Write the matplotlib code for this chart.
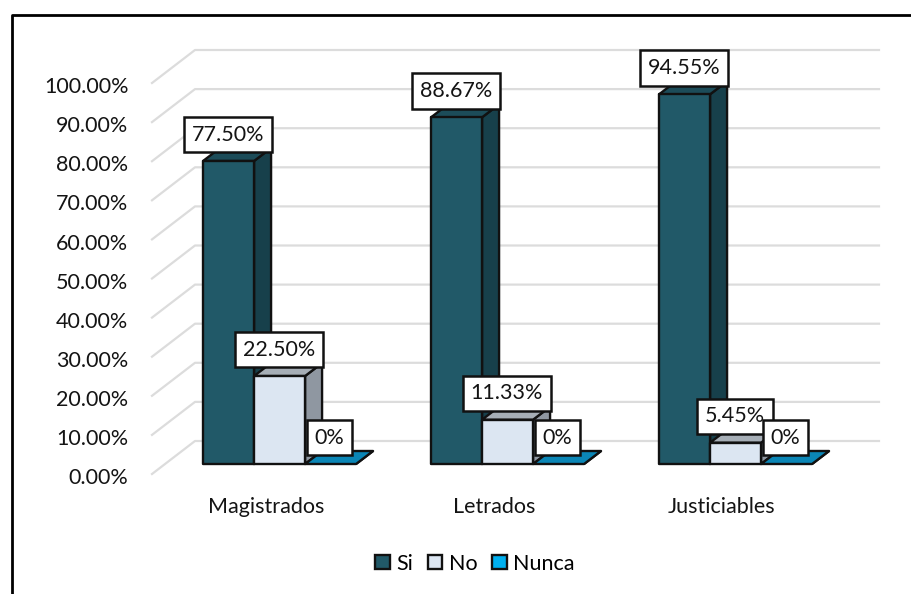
import matplotlib
matplotlib.use("Agg")
import matplotlib.pyplot as plt
from matplotlib.patches import Polygon, Rectangle

categories = ["Magistrados", "Letrados", "Justiciables"]
series_names = ["Si", "No", "Nunca"]
si_vals = [77.50, 88.67, 94.55]
no_vals = [22.50, 11.33, 5.45]
nunca_vals = [0, 0, 0]
si_labels = ["77.50%", "88.67%", "94.55%"]
no_labels = ["22.50%", "11.33%", "5.45%"]
nunca_labels = ["0%", "0%", "0%"]
y_ticks = list(range(0, 101, 10))

# front, top, side colours
colors = {
    "Si": ("#215968", "#1c4c59", "#17404b"),
    "No": ("#dce6f2", "#a6aeb6", "#8f97a1"),
    "Nunca": ("#00b0f0", "#0b86b6", "#0b6f96"),
}

W, H = 912, 594
plt.rcParams["font.family"] = ["Lato", "DejaVu Sans"]
FS = 15.5
TXT = "#141414"

fig = plt.figure(figsize=(W / 100, H / 100), dpi=100)
fig.patch.set_facecolor("white")

# axes is the front plane of the 3D box
left, right, bottom, top = 152, 836, 474, 83
ax = fig.add_axes([left / W, 1 - bottom / H, (right - left) / W, (bottom - top) / H])
ax.set_xlim(0, 3)
ax.set_ylim(0, 100)
ax.axis("off")

px_x = (right - left) / 3
px_y = (bottom - top) / 100
wall_dx, wall_dy = 43 / px_x, 33 / px_y
bar_dx, bar_dy = 17 / px_x, 13 / px_y
base = 10 / px_y
bar_w = 51 / px_x
group_off = 0.224

for v in y_ticks:
    ax.plot([0, wall_dx, 3 + wall_dx], [v, v + wall_dy, v + wall_dy],
            color="#dcdcdc", lw=1.6, clip_on=False, zorder=1)
    ax.annotate(f"{v:.2f}%", (0, v), xytext=(-17, -3), textcoords="offset points",
                ha="right", va="center", fontsize=FS, color=TXT)


def box(x0, val, name, z):
    front, top_c, side = colors[name]
    x1 = x0 + bar_w
    y0 = base
    y1 = base + val
    kw = dict(ec="#111111", lw=1.7, clip_on=False, zorder=z, joinstyle="round")
    ax.add_patch(Polygon([(x1, y0), (x1 + bar_dx, y0 + bar_dy), (x1 + bar_dx, y1 + bar_dy), (x1, y1)],
                         fc=side, **kw))
    ax.add_patch(Polygon([(x0, y1), (x1, y1), (x1 + bar_dx, y1 + bar_dy), (x0 + bar_dx, y1 + bar_dy)],
                         fc=top_c, **kw))
    if val > 0:
        ax.add_patch(Rectangle((x0, y0), bar_w, val, fc=front, **kw))


def label(x, val, s, z):
    ax.annotate(s, (x, base + val), xytext=(-0.6, 19), textcoords="offset points",
                ha="center", va="center", fontsize=FS, color=TXT, zorder=z,
                bbox=dict(boxstyle="square,pad=0.36", fc="white", ec="#111111", lw=1.8))


for i, cat in enumerate(categories):
    x = i + group_off
    box(x, si_vals[i], "Si", 3)
    box(x + bar_w, no_vals[i], "No", 4)
    box(x + 2 * bar_w, nunca_vals[i], "Nunca", 5)
    ax.text(i + 0.5, -8.4, cat, ha="center", va="center", fontsize=FS, color=TXT)
    label(x + bar_w * 0.5, si_vals[i], si_labels[i], 10)
    label(x + bar_w * 1.5, no_vals[i], no_labels[i], 11)
    label(x + bar_w * 2.5, nunca_vals[i], nunca_labels[i], 12)

# legend
handles = [Rectangle((0, 0), 1, 1, fc=colors[n][0], ec="#111111", lw=1.7) for n in series_names]
fig.legend(handles, series_names, loc="center", bbox_to_anchor=(475 / W, 1 - 563.5 / H), ncol=3,
           frameon=False, fontsize=FS, handlelength=0.68, handleheight=0.68,
           handletextpad=0.3, columnspacing=0.68)

# outer border, only left and top
fig.add_artist(plt.Line2D([12.5 / W, 12.5 / W, 1], [0, 1 - 14.5 / H, 1 - 14.5 / H],
                          color="black", lw=2))

fig.savefig("out.png", dpi=100)
